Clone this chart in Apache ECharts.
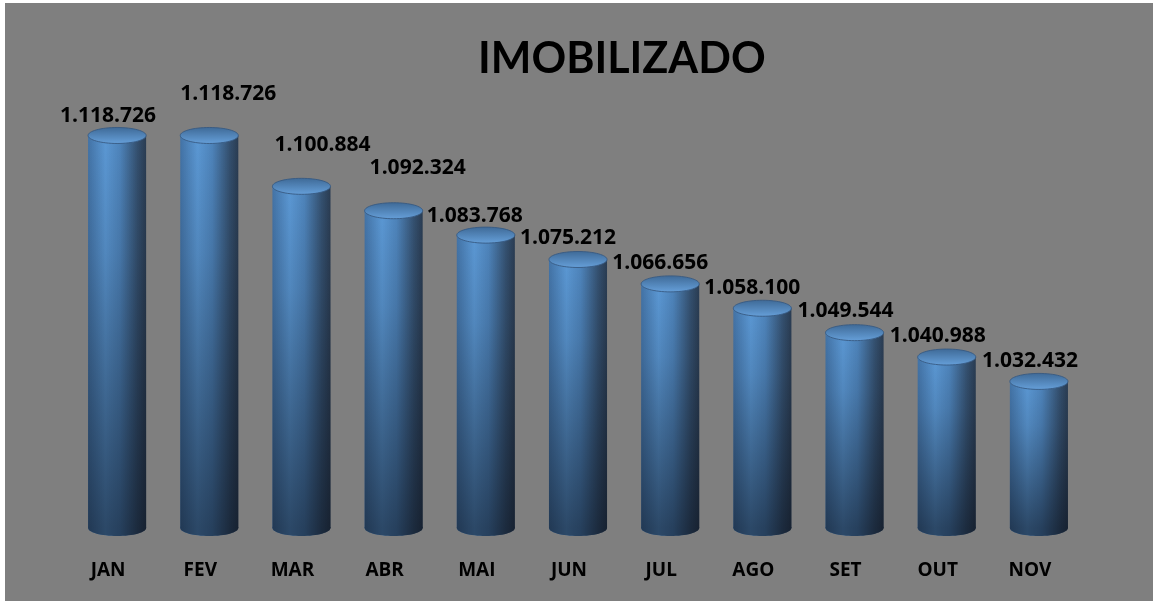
<!DOCTYPE html>
<html>
<head>
<meta charset="utf-8">
<script src="https://cdn.jsdelivr.net/npm/echarts@6/dist/echarts.min.js"></script>
<style>
  html, body { margin: 0; padding: 0; background: #fff; }
  #chart { position: absolute; left: 5px; top: 3px; width: 1148px; height: 598px; background: #7f7f7f; }
</style>
</head>
<body>
<div id="chart"></div>
<script>
// dados do gráfico
var meses = ['JAN', 'FEV', 'MAR', 'ABR', 'MAI', 'JUN', 'JUL', 'AGO', 'SET', 'OUT', 'NOV'];
var valores = [1118726, 1118726, 1100884, 1092324, 1083768, 1075212, 1066656, 1058100, 1049544, 1040988, 1032432];

// deslocamento dos rótulos (x, y) em px, como no original
var ajusteRotulo = [[-9, -19], [19, -41], [21, -41], [24, -43], [-11, -19], [-10, -21],
                    [-10, -21], [-10, -20], [-9, -22], [-9, -21], [-9, -20]];

var yMin = 981000, yMax = 1121000;

function formata(v) {
  return String(v).replace(/\B(?=(\d{3})+(?!\d))/g, '.');
}

var corpo = new echarts.graphic.LinearGradient(0, 0, 1, 0, [
  {offset: 0, color: '#4373a6'},
  {offset: 0.3, color: '#5b98d4'},
  {offset: 0.55, color: '#4e84bb'},
  {offset: 0.85, color: '#34506f'},
  {offset: 1, color: '#2a3c52'}
]);
var sombra = new echarts.graphic.LinearGradient(0, 0, 0, 1, [
  {offset: 0, color: 'rgba(10,15,25,0)'},
  {offset: 0.3, color: 'rgba(10,15,25,0.12)'},
  {offset: 1, color: 'rgba(10,15,25,0.58)'}
]);
var tampa = new echarts.graphic.LinearGradient(0, 0, 0, 1, [
  {offset: 0, color: '#3e6996'},
  {offset: 1, color: '#66a0da'}
]);

function cilindro(params, api) {
  var i = api.value(0);
  var topo = api.coord([i, api.value(1)]);
  var base = api.coord([i, yMin]);
  var w = api.size([1, 0])[0] * 0.63;
  var rx = w / 2, ry = 8;
  var x0 = topo[0] - rx;
  var h = base[1] - topo[1];
  var aj = ajusteRotulo[params.dataIndex];
  return {
    type: 'group',
    children: [
      {type: 'ellipse', shape: {cx: topo[0], cy: base[1], rx: rx, ry: ry}, style: {fill: corpo}},
      {type: 'ellipse', shape: {cx: topo[0], cy: base[1], rx: rx, ry: ry}, style: {fill: 'rgba(10,15,25,0.58)'}},
      {type: 'rect', shape: {x: x0, y: topo[1], width: w, height: h}, style: {fill: corpo}},
      {type: 'rect', shape: {x: x0, y: topo[1], width: w, height: h}, style: {fill: sombra}},
      {type: 'ellipse', shape: {cx: topo[0], cy: topo[1], rx: rx, ry: ry},
        style: {fill: tampa, stroke: 'rgba(55,90,130,0.9)', lineWidth: 1}},
      {type: 'text', x: topo[0] + aj[0], y: topo[1] + aj[1],
        style: {text: formata(api.value(1)), fill: '#000', font: 'bold 21px "Open Sans"',
          align: 'center', verticalAlign: 'middle'}}
    ]
  };
}

var myChart = echarts.init(document.getElementById('chart'));
myChart.setOption({
  backgroundColor: '#7f7f7f',
  animation: false,
  title: {
    text: 'IMOBILIZADO',
    left: 468,
    top: 30,
    textStyle: {fontFamily: 'Lato', fontWeight: 'bold', fontSize: 43, color: '#000'}
  },
  grid: {left: 66, right: 68, top: 126, bottom: 73},
  xAxis: {
    type: 'category',
    data: meses,
    axisLine: {show: false},
    axisTick: {show: false},
    axisLabel: {
      color: '#000', fontFamily: 'Open Sans', fontWeight: 'bold', fontSize: 19,
      margin: 33, padding: [0, 18, 0, 0]
    }
  },
  yAxis: {type: 'value', min: yMin, max: yMax, show: false},
  series: [{
    type: 'custom',
    renderItem: cilindro,
    data: valores.map(function (v, i) { return [i, v]; }),
    encode: {x: 0, y: 1}
  }]
});
</script>
</body>
</html>
